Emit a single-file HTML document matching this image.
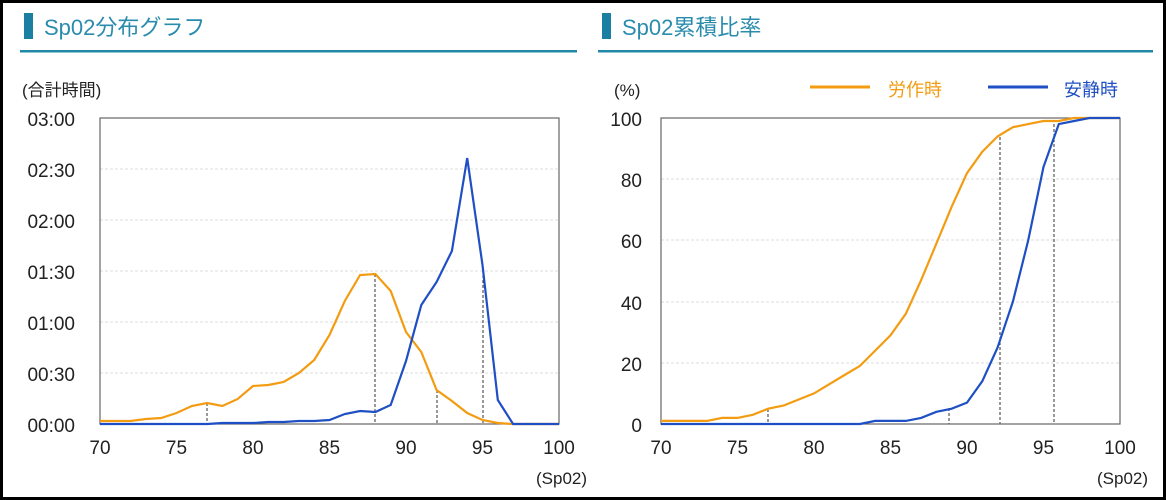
<!DOCTYPE html>
<html><head><meta charset="utf-8"><style>
body{margin:0;background:#000;}
.wrap{position:absolute;left:3px;top:3px;width:1160px;height:494px;background:#fff;}
svg{position:absolute;left:0;top:0;}
text{font-family:"Liberation Sans","Noto Sans CJK JP",sans-serif;}
</style></head><body>
<div class="wrap"></div>
<svg width="1166" height="500" viewBox="0 0 1166 500">
<!-- titles -->
<rect x="24" y="13" width="9" height="26" fill="#1a7fa0"/>
<text x="44" y="35" font-size="22" fill="#2a8cad">Sp02分布グラフ</text>
<rect x="20" y="50" width="557" height="2.5" fill="#2188a8"/>
<rect x="602" y="13" width="9" height="26" fill="#1a7fa0"/>
<text x="622" y="35" font-size="22" fill="#2a8cad">Sp02累積比率</text>
<rect x="598" y="50" width="555" height="2.5" fill="#2188a8"/>

<!-- left chart -->
<text x="22" y="96" font-size="17" fill="#222">(合計時間)</text>
<g stroke="#ddd" stroke-dasharray="3,2" stroke-width="1">
<line x1="100" y1="169" x2="559" y2="169"/><line x1="100" y1="220" x2="559" y2="220"/>
<line x1="100" y1="271" x2="559" y2="271"/><line x1="100" y1="322" x2="559" y2="322"/>
<line x1="100" y1="373" x2="559" y2="373"/>
</g>
<g stroke="#333" stroke-dasharray="3,2" stroke-width="1">
<line x1="207" y1="403" x2="207" y2="424"/><line x1="375" y1="274" x2="375" y2="424"/>
<line x1="437" y1="390" x2="437" y2="424"/><line x1="483" y1="265" x2="483" y2="424"/>
</g>
<rect x="100" y="118" width="459" height="306" fill="none" stroke="#666" stroke-width="1.2"/>
<g font-size="19" fill="#222" text-anchor="end">
<text x="75" y="126">03:00</text><text x="75" y="177">02:30</text><text x="75" y="228">02:00</text>
<text x="75" y="279">01:30</text><text x="75" y="330">01:00</text><text x="75" y="381">00:30</text>
<text x="75" y="432">00:00</text>
</g>
<g font-size="19" fill="#222" text-anchor="middle">
<text x="100" y="454">70</text><text x="176.5" y="454">75</text><text x="253" y="454">80</text>
<text x="329.5" y="454">85</text><text x="406" y="454">90</text><text x="482.5" y="454">95</text><text x="559" y="454">100</text>
</g>
<text x="536" y="484" font-size="17" fill="#222">(Sp02)</text>
<polyline fill="none" stroke="#f39c12" stroke-width="2.2" points="100,421 115.3,421 130.6,421 145.9,419 161.2,418 176.5,413 191.8,406 207.1,403 222.4,406 237.7,399 253,386 268.3,385 283.6,382 298.9,373 314.2,360 329.5,335 344.8,301 360.1,275 375.4,274 390.7,291 406,332 421.3,352 436.6,390 451.9,401 467.2,413 482.5,420 497.8,423 513.1,424 528.4,424 543.7,424 559,424"/>
<polyline fill="none" stroke="#1f4fc4" stroke-width="2.2" points="100,424 207.1,424 222.4,423 253,423 268.3,422 283.6,422 298.9,421 314.2,421 329.5,420 344.8,414 360.1,411 375.4,412 390.7,405 406,361 421.3,305 436.6,282 451.9,251 467.2,158 482.5,265 497.8,400 513.1,424 559,424"/>

<!-- right chart -->
<text x="614" y="96" font-size="17" fill="#222">(%)</text>
<line x1="810" y1="87" x2="870" y2="87" stroke="#f39c12" stroke-width="3"/>
<text x="888" y="96" font-size="18" fill="#f39c12">労作時</text>
<line x1="988" y1="87" x2="1048" y2="87" stroke="#1f4fc4" stroke-width="3"/>
<text x="1064" y="96" font-size="18" fill="#1f4fc4">安静時</text>
<g stroke="#ddd" stroke-dasharray="3,2" stroke-width="1">
<line x1="661" y1="179" x2="1120" y2="179"/><line x1="661" y1="240" x2="1120" y2="240"/>
<line x1="661" y1="302" x2="1120" y2="302"/><line x1="661" y1="363" x2="1120" y2="363"/>
</g>
<g stroke="#333" stroke-dasharray="3,2" stroke-width="1">
<line x1="768" y1="409" x2="768" y2="424"/><line x1="949" y1="408" x2="949" y2="424"/>
<line x1="1000" y1="137" x2="1000" y2="424"/><line x1="1054" y1="124" x2="1054" y2="424"/>
</g>
<rect x="661" y="118" width="459" height="306" fill="none" stroke="#666" stroke-width="1.2"/>
<g font-size="19" fill="#222" text-anchor="end">
<text x="642" y="126">100</text><text x="642" y="187">80</text><text x="642" y="248">60</text>
<text x="642" y="310">40</text><text x="642" y="371">20</text><text x="642" y="432">0</text>
</g>
<g font-size="19" fill="#222" text-anchor="middle">
<text x="661" y="454">70</text><text x="737.5" y="454">75</text><text x="814" y="454">80</text>
<text x="890.5" y="454">85</text><text x="967" y="454">90</text><text x="1043.5" y="454">95</text><text x="1120" y="454">100</text>
</g>
<text x="1097" y="484" font-size="17" fill="#222">(Sp02)</text>
<polyline fill="none" stroke="#f39c12" stroke-width="2.2" points="661,420.9 676.3,420.9 691.6,420.9 706.9,420.9 722.2,417.9 737.5,417.9 752.8,414.8 768.1,408.7 783.4,405.6 798.7,399.5 814,393.4 829.3,384.2 844.6,375 859.9,365.9 875.2,350.6 890.5,335.3 905.8,313.8 921.1,280.2 936.4,243.5 951.7,206.7 967,173.1 982.3,151.7 997.6,136.4 1012.9,127.2 1028.2,124.1 1043.5,121 1058.8,121 1074.1,118 1120,118"/>
<polyline fill="none" stroke="#1f4fc4" stroke-width="2.2" points="661,424 859.9,424 875.2,420.9 890.5,420.9 905.8,420.9 921.1,417.9 936.4,411.8 951.7,408.7 967,402.6 982.3,381.2 997.6,347.5 1012.9,301.6 1028.2,240.4 1043.5,166.9 1058.8,124.1 1074.1,121 1089.4,118 1120,118"/>
</svg>
</body></html>
